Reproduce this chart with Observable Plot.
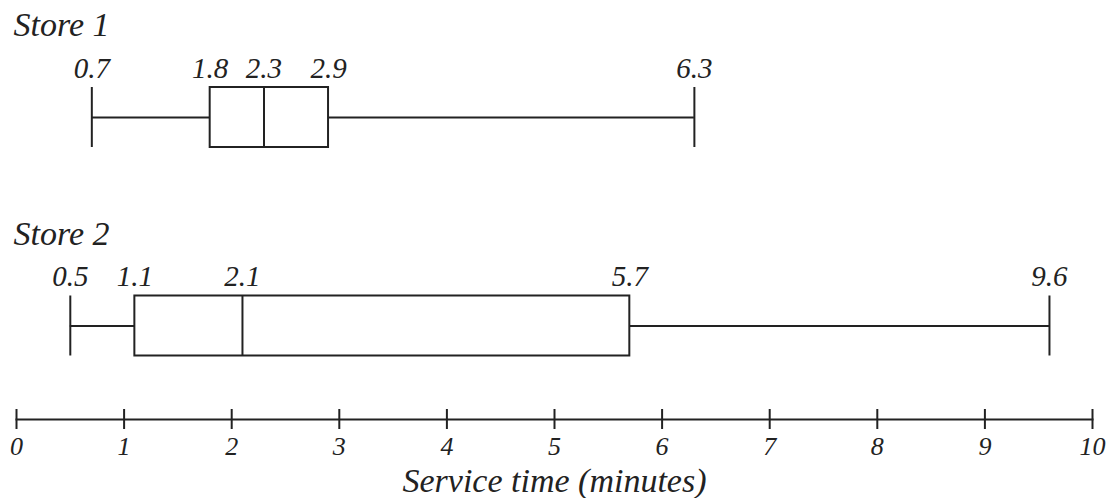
<!DOCTYPE html>
<html>
<head>
<meta charset="utf-8">
<script src="https://cdn.jsdelivr.net/npm/d3@7"></script>
<script src="https://cdn.jsdelivr.net/npm/@observablehq/plot@0.6"></script>
<style>
  html, body { margin: 0; padding: 0; background: #fff; }
</style>
</head>
<body>
<div id="chart"></div>
<script>
// Five-number summaries
const stores = ["Store 1", "Store 2"];
const minValues = [0.7, 0.5];
const q1Values = [1.8, 1.1];
const medianValues = [2.3, 2.1];
const q3Values = [2.9, 5.7];
const maxValues = [6.3, 9.6];
const xTicks = [0, 1, 2, 3, 4, 5, 6, 7, 8, 9, 10];
const xLabel = "Service time (minutes)";

const ink = "#222";
const fmt = d3.format(".1f");

const data = stores.map((s, i) => ({
  store: s,
  min: minValues[i],
  q1: q1Values[i],
  med: medianValues[i],
  q3: q3Values[i],
  max: maxValues[i]
}));
const labels = data.flatMap(d =>
  ["min", "q1", "med", "q3", "max"].map(k => ({store: d.store, value: d[k]}))
);

const chart = Plot.plot({
  width: 1111,
  height: 498,
  marginLeft: 16,
  marginRight: 19,
  marginTop: 23.5,
  marginBottom: 79,
  x: {domain: [0, 10]},
  y: {type: "band", domain: stores, paddingInner: 0.7122, paddingOuter: 0.3046, round: false, axis: null},
  style: {fontFamily: "'Liberation Serif', 'DejaVu Serif', serif", fontStyle: "italic", color: ink, background: "white"},
  marks: [
    Plot.ruleY(data, {y: "store", x1: "min", x2: "max", stroke: ink, strokeWidth: 2}),
    Plot.barX(data, {y: "store", x1: "q1", x2: "q3", fill: "white", stroke: ink, strokeWidth: 2}),
    Plot.tickX(data, {y: "store", x: "med", stroke: ink, strokeWidth: 2}),
    Plot.tickX(data, {y: "store", x: "min", stroke: ink, strokeWidth: 2}),
    Plot.tickX(data, {y: "store", x: "max", stroke: ink, strokeWidth: 2}),
    Plot.text(labels, {x: "value", y: "store", text: d => fmt(d.value), dy: -49, fontSize: 29, fill: ink}),
    Plot.text(stores, {y: d => d, text: d => d, frameAnchor: "left", textAnchor: "start", dx: -3, dy: -92, fontSize: 34, fill: ink}),
    Plot.frame({anchor: "bottom", stroke: ink, strokeWidth: 2}),
    Plot.axisX({
      ticks: xTicks,
      tickFormat: d => String(d),
      tickSize: 20,
      dy: -10,
      tickPadding: 7,
      strokeWidth: 2,
      stroke: ink,
      fill: ink,
      fontSize: 26,
      label: null
    }),
    Plot.text([xLabel], {frameAnchor: "bottom", text: d => d, dy: 72, fontSize: 34, fill: ink})
  ]
});
document.getElementById("chart").appendChild(chart);
</script>
</body>
</html>
